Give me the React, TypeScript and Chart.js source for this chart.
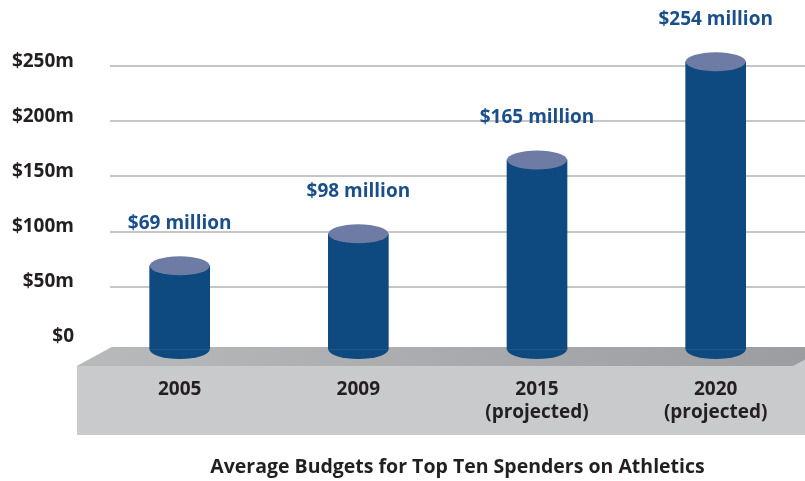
import React, { useEffect, useRef } from "react";
import { Chart, registerables } from "chart.js";

Chart.register(...registerables);

// ---- data ----
const categoryLines: string[][] = [["2005"], ["2009"], ["2015", "(projected)"], ["2020", "(projected)"]];
const budgets: number[] = [69, 98, 165, 254];
const valueLabels: string[] = ["$69 million", "$98 million", "$165 million", "$254 million"];
const yTickValues: number[] = [0, 50, 100, 150, 200, 250];
const yTickLabels: string[] = ["$0", "$50m", "$100m", "$150m", "$200m", "$250m"];
const chartTitle = "Average Budgets for Top Ten Spenders on Athletics";

// ---- styles ----
const FONT = "'Open Sans', 'DejaVu Sans', sans-serif";
const BODY = "#0e4a7f";
const CAP = "#6e7ba4";
const TEXT = "#231f20";
const LABEL = "#1b4f8b";
const RY = 9.5;

const cylinderPlugin = {
  id: "cylinders",
  beforeDraw(chart: any) {
    const { ctx, chartArea, scales } = chart;
    const y0 = scales.y.getPixelForValue(0);
    const back = y0 + 5;
    const front = y0 + 24;
    const bottom = y0 + 93;
    const fl = chartArea.left - 33;
    const bl = chartArea.left + 2;
    const W = chart.width;
    ctx.save();
    // front + side face
    ctx.fillStyle = "#c9cacc";
    ctx.beginPath();
    ctx.moveTo(fl, front);
    ctx.lineTo(bl, back);
    ctx.lineTo(W, back);
    ctx.lineTo(W, bottom);
    ctx.lineTo(fl, bottom);
    ctx.closePath();
    ctx.fill();
    // top face
    const g = ctx.createLinearGradient(bl, 0, W, 0);
    g.addColorStop(0, "#b7b8ba");
    g.addColorStop(1, "#9c9da0");
    ctx.fillStyle = g;
    ctx.beginPath();
    ctx.moveTo(fl, front);
    ctx.lineTo(bl, back);
    ctx.lineTo(W + 23, back);
    ctx.lineTo(W - 12, front);
    ctx.closePath();
    ctx.fill();
    ctx.restore();
  },
  afterDatasetsDraw(chart: any) {
    const { ctx } = chart;
    const meta = chart.getDatasetMeta(0);
    ctx.save();
    meta.data.forEach((bar: any, i: number) => {
      const { x, y, base, width } = bar.getProps(["x", "y", "base", "width"], true);
      const rx = width / 2;
      // bottom rounded edge
      ctx.fillStyle = BODY;
      ctx.beginPath();
      ctx.ellipse(x, base, rx, RY, 0, 0, Math.PI);
      ctx.fill();
      // top cap
      ctx.fillStyle = CAP;
      ctx.beginPath();
      ctx.ellipse(x, y, rx, RY, 0, 0, Math.PI * 2);
      ctx.fill();
      // value label
      ctx.fillStyle = LABEL;
      ctx.font = `bold 19px ${FONT}`;
      ctx.textAlign = "center";
      ctx.textBaseline = "middle";
      ctx.fillText(valueLabels[i], x, y - RY - 33);
    });
    ctx.restore();
  },
};

export default function App() {
  const ref = useRef<HTMLCanvasElement | null>(null);

  useEffect(() => {
    document.body.style.margin = "0";
    document.body.style.overflow = "hidden";
    const canvas = ref.current;
    if (!canvas) return;
    const chart = new Chart(canvas, {
      type: "bar",
      data: {
        datasets: [
          {
            data: budgets.map((v, i) => ({ x: i, y: v })),
            backgroundColor: BODY,
            borderWidth: 0,
            barThickness: 60,
            base: -6.8,
          } as any,
        ],
      },
      options: {
        animation: false,
        responsive: false,
        maintainAspectRatio: false,
        layout: { padding: { top: 11, left: 0, right: 0, bottom: 0 } },
        plugins: {
          legend: { display: false },
          tooltip: { enabled: false },
          title: { display: false },
        },
        scales: {
          x: {
            type: "linear",
            offset: false,
            min: -0.39,
            max: 3.5,
            grid: { display: false, drawTicks: false },
            border: { display: false },
            afterBuildTicks: (s: any) => {
              s.ticks = categoryLines.map((_, i) => ({ value: i }));
            },
            afterFit: (s: any) => {
              s.height = 106;
              s.paddingLeft = 0;
              s.paddingRight = 0;
            },
            ticks: {
              padding: 3,
              autoSkip: false,
              maxRotation: 0,
              color: TEXT,
              font: { family: FONT, size: 19, weight: "bold", lineHeight: 1.2 },
              callback: (v: any) => categoryLines[Number(v)] ?? "",
            },
            title: {
              display: true,
              text: chartTitle,
              color: TEXT,
              font: { family: FONT, size: 19.5, weight: "bold", lineHeight: 1.2 },
              padding: { top: 0, bottom: 2 },
            },
          },
          y: {
            type: "linear",
            min: -30,
            max: 300,
            afterBuildTicks: (s: any) => {
              s.ticks = yTickValues.map((v) => ({ value: v }));
            },
            afterFit: (s: any) => {
              s.width = 110;
              s.paddingTop = 0;
              s.paddingBottom = 0;
            },
            grid: {
              color: (c: any) => (c.tick && c.tick.value === 0 ? "rgba(0,0,0,0)" : "#c6c6c6"),
              lineWidth: 2,
              drawTicks: false,
            },
            border: { display: false },
            ticks: {
              padding: 36,
              labelOffset: -5,
              color: TEXT,
              font: { family: FONT, size: 19, weight: "bold" },
              callback: (v: any) => {
                const k = yTickValues.indexOf(Number(v));
                return k >= 0 ? yTickLabels[k] : "";
              },
            },
          },
        },
      } as any,
      plugins: [cylinderPlugin],
    });
    return () => chart.destroy();
  }, []);

  return (
    <div style={{ width: 805, height: 481 }}>
      <canvas ref={ref} width={805} height={481} style={{ display: "block" }} />
    </div>
  );
}
